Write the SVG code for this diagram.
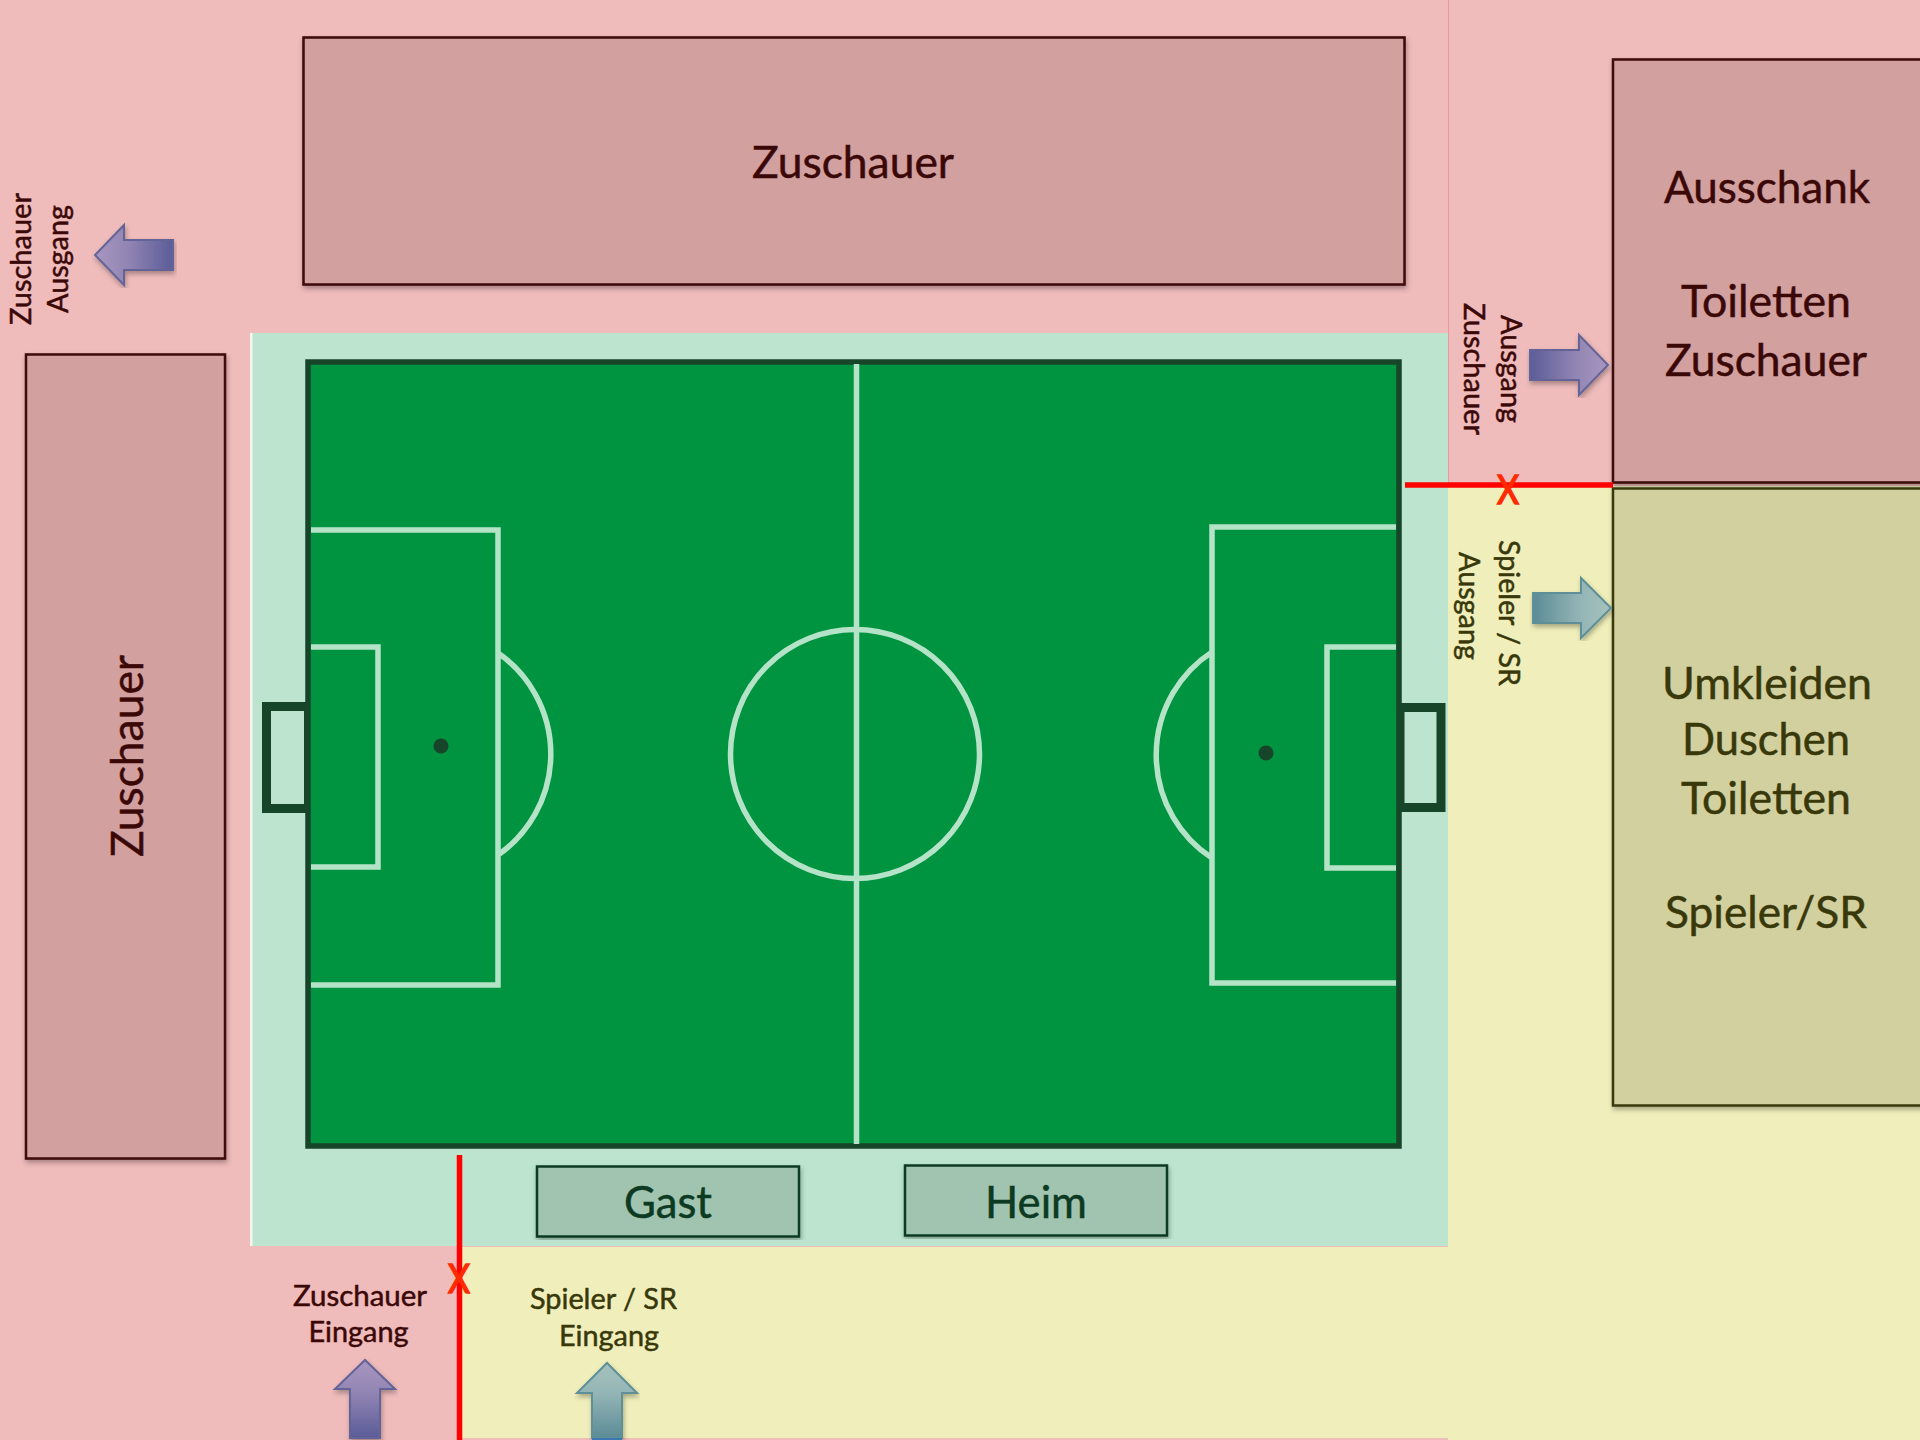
<svg xmlns="http://www.w3.org/2000/svg" width="1920" height="1440" viewBox="0 0 1920 1440">
<style>
text{font-family:Lato,"Liberation Sans",sans-serif;text-anchor:middle;stroke-width:.5}
.big{font-size:44px}
.small{font-size:29px}
.rd{fill:#3b0808;stroke:#3b0808}
.ol{fill:#38380a;stroke:#38380a}
.gn{fill:#0c3a22;stroke:#0c3a22}
.zone{stroke-width:2.5;filter:url(#sh)}
.line{fill:none;stroke:#b5e3c8;stroke-width:5.5}
.dark{fill:none;stroke:#17452a;stroke-width:9}
.p{fill:url(#pr);stroke:#646497;stroke-width:2;filter:url(#sh)}
.t{fill:url(#tr);stroke:#5f8f97;stroke-width:2;filter:url(#sh)}
.red{stroke:#ff0000;stroke-width:5.5;fill:none}
.x{fill:#ff2a00;stroke:#ff2a00;font-size:40px;stroke-width:1.5}
</style>
<defs>
<filter id="sh" x="-5%" y="-5%" width="110%" height="110%"><feDropShadow dx="1" dy="3" stdDeviation="2.5" flood-color="#000" flood-opacity=".3"/></filter>
<linearGradient id="pr" x1="0" y1="0" x2="1" y2="0"><stop offset="0" stop-color="#5b5c98"/><stop offset=".6" stop-color="#9386b4"/><stop offset="1" stop-color="#a896c0"/></linearGradient>
<linearGradient id="prL" x1="1" y1="0" x2="0" y2="0"><stop offset="0" stop-color="#5b5c98"/><stop offset=".6" stop-color="#9386b4"/><stop offset="1" stop-color="#a896c0"/></linearGradient>
<linearGradient id="prU" x1="0" y1="1" x2="0" y2="0"><stop offset="0" stop-color="#5b5c98"/><stop offset=".6" stop-color="#9386b4"/><stop offset="1" stop-color="#a896c0"/></linearGradient>
<linearGradient id="tr" x1="0" y1="0" x2="1" y2="0"><stop offset="0" stop-color="#5b8b96"/><stop offset=".6" stop-color="#94b5b6"/><stop offset="1" stop-color="#a6c2bd"/></linearGradient>
<linearGradient id="trU" x1="0" y1="1" x2="0" y2="0"><stop offset="0" stop-color="#5b8b96"/><stop offset=".6" stop-color="#94b5b6"/><stop offset="1" stop-color="#a6c2bd"/></linearGradient>
</defs>

<g id="areas">
<rect width="1920" height="1440" fill="#efbbbb"/>
<rect x="460" y="1247" width="988" height="191" fill="#f0efbb"/>
<rect x="1448" y="486" width="472" height="954" fill="#f0efbb"/>
<rect x="1448" y="0" width="1" height="486" fill="#e99a9a"/>
<rect x="250" y="333" width="1198" height="913" fill="#bce4ce"/>
<rect x="250" y="333" width="2.500" height="913" fill="#f4f4f0"/>
</g>

<g id="pitch">
<rect x="266.500" y="706.500" width="42" height="102" class="dark"/>
<rect x="1400" y="707.500" width="41" height="100" class="dark"/>
<rect x="308" y="362" width="1091" height="784" fill="#009440" stroke="#17452a" stroke-width="5.500"/>
<path class="line" d="M856.500 364V1144"/>
<circle class="line" cx="855" cy="754" r="124.500"/>
<path class="line" d="M311 530H498V985H311M311 647H378V867H311M498 653A123 123 0 0 1 498 855"/>
<circle cx="441" cy="746" r="7.500" fill="#17452a"/>
<path class="line" d="M1396 527H1212V983H1396M1396 647H1327V868H1396M1212 652A123 123 0 0 0 1212 858"/>
<circle cx="1266" cy="753" r="7.500" fill="#17452a"/>
</g>

<g id="zuschauer-top">
<rect class="zone" x="303.500" y="37.500" width="1101" height="247" fill="#d1a09f" stroke="#3b0808"/>
<text class="big rd" x="853" y="178" textLength="202" lengthAdjust="spacingAndGlyphs">Zuschauer</text>
</g>
<g id="zuschauer-left">
<rect class="zone" x="26" y="354.500" width="199" height="804" fill="#d1a09f" stroke="#3b0808"/>
<text class="big rd" transform="translate(143 756) rotate(-90)" textLength="202" lengthAdjust="spacingAndGlyphs">Zuschauer</text>
</g>
<g id="ausschank">
<rect class="zone" x="1613" y="59.500" width="310" height="423" fill="#d1a09f" stroke="#3b0808"/>
<text class="big rd" x="1767" y="203" textLength="206" lengthAdjust="spacingAndGlyphs">Ausschank</text>
<text class="big rd" x="1766" y="317" textLength="170" lengthAdjust="spacingAndGlyphs">Toiletten</text>
<text class="big rd" x="1766" y="376" textLength="202" lengthAdjust="spacingAndGlyphs">Zuschauer</text>
</g>
<g id="umkleiden">
<rect class="zone" x="1613" y="488.500" width="310" height="617" fill="#d2d09f" stroke="#38380a"/>
<text class="big ol" x="1767" y="699" textLength="210" lengthAdjust="spacingAndGlyphs">Umkleiden</text>
<text class="big ol" x="1766" y="755" textLength="168" lengthAdjust="spacingAndGlyphs">Duschen</text>
<text class="big ol" x="1766" y="814" textLength="170" lengthAdjust="spacingAndGlyphs">Toiletten</text>
<text class="big ol" x="1766" y="928" textLength="202" lengthAdjust="spacingAndGlyphs">Spieler/SR</text>
</g>
<g id="gast">
<rect class="zone" x="537" y="1166.500" width="262" height="70" fill="#a0c4af" stroke="#0c3a22"/>
<text class="big gn" x="668" y="1218" textLength="88" lengthAdjust="spacingAndGlyphs">Gast</text>
</g>
<g id="heim">
<rect class="zone" x="905" y="1165.500" width="262" height="70" fill="#a0c4af" stroke="#0c3a22"/>
<text class="big gn" x="1036" y="1218" textLength="102" lengthAdjust="spacingAndGlyphs">Heim</text>
</g>

<g id="labels">
<text class="small rd" transform="translate(31 259) rotate(-90)" textLength="132" lengthAdjust="spacingAndGlyphs">Zuschauer</text>
<text class="small rd" transform="translate(68 259) rotate(-90)" textLength="108" lengthAdjust="spacingAndGlyphs">Ausgang</text>
<text class="small rd" transform="translate(1464 369) rotate(90)" textLength="132" lengthAdjust="spacingAndGlyphs">Zuschauer</text>
<text class="small rd" transform="translate(1501 369) rotate(90)" textLength="108" lengthAdjust="spacingAndGlyphs">Ausgang</text>
<text class="small ol" transform="translate(1499 613) rotate(90)" textLength="146" lengthAdjust="spacingAndGlyphs">Spieler / SR</text>
<text class="small ol" transform="translate(1459 606) rotate(90)" textLength="108" lengthAdjust="spacingAndGlyphs">Ausgang</text>
<text class="small rd" x="360" y="1306" textLength="134" lengthAdjust="spacingAndGlyphs">Zuschauer</text>
<text class="small rd" x="358.500" y="1342" textLength="100" lengthAdjust="spacingAndGlyphs">Eingang</text>
<text class="small ol" x="603.500" y="1309" textLength="147" lengthAdjust="spacingAndGlyphs">Spieler / SR</text>
<text class="small ol" x="609" y="1346" textLength="100" lengthAdjust="spacingAndGlyphs">Eingang</text>
</g>

<g id="connectors">
<path class="red" d="M1405 485H1613"/>
<path class="red" d="M459.500 1155V1440"/>
<text class="x" x="1508" y="504" textLength="22" lengthAdjust="spacingAndGlyphs">X</text>
<text class="x" x="459" y="1293" textLength="22" lengthAdjust="spacingAndGlyphs">X</text>
<path class="p" d="M1530 350H1579V335L1608 365L1579 395V380H1530Z"/>
<path class="t" d="M1533 593H1581V578L1611 608L1581 638V623H1533Z"/>
<path class="p" style="fill:url(#prL)" d="M173 240H124V225L95 255L124 285V270H173Z"/>
<path class="p" style="fill:url(#prU)" d="M350 1438V1389H335L365 1360L395 1389H380V1438Z"/>
<path class="t" style="fill:url(#trU)" d="M592 1438V1393H577L607 1363L637 1393H622V1438Z"/>
<rect x="592" y="1438" width="30" height="2" fill="#3c78b4"/>
</g>
</svg>
